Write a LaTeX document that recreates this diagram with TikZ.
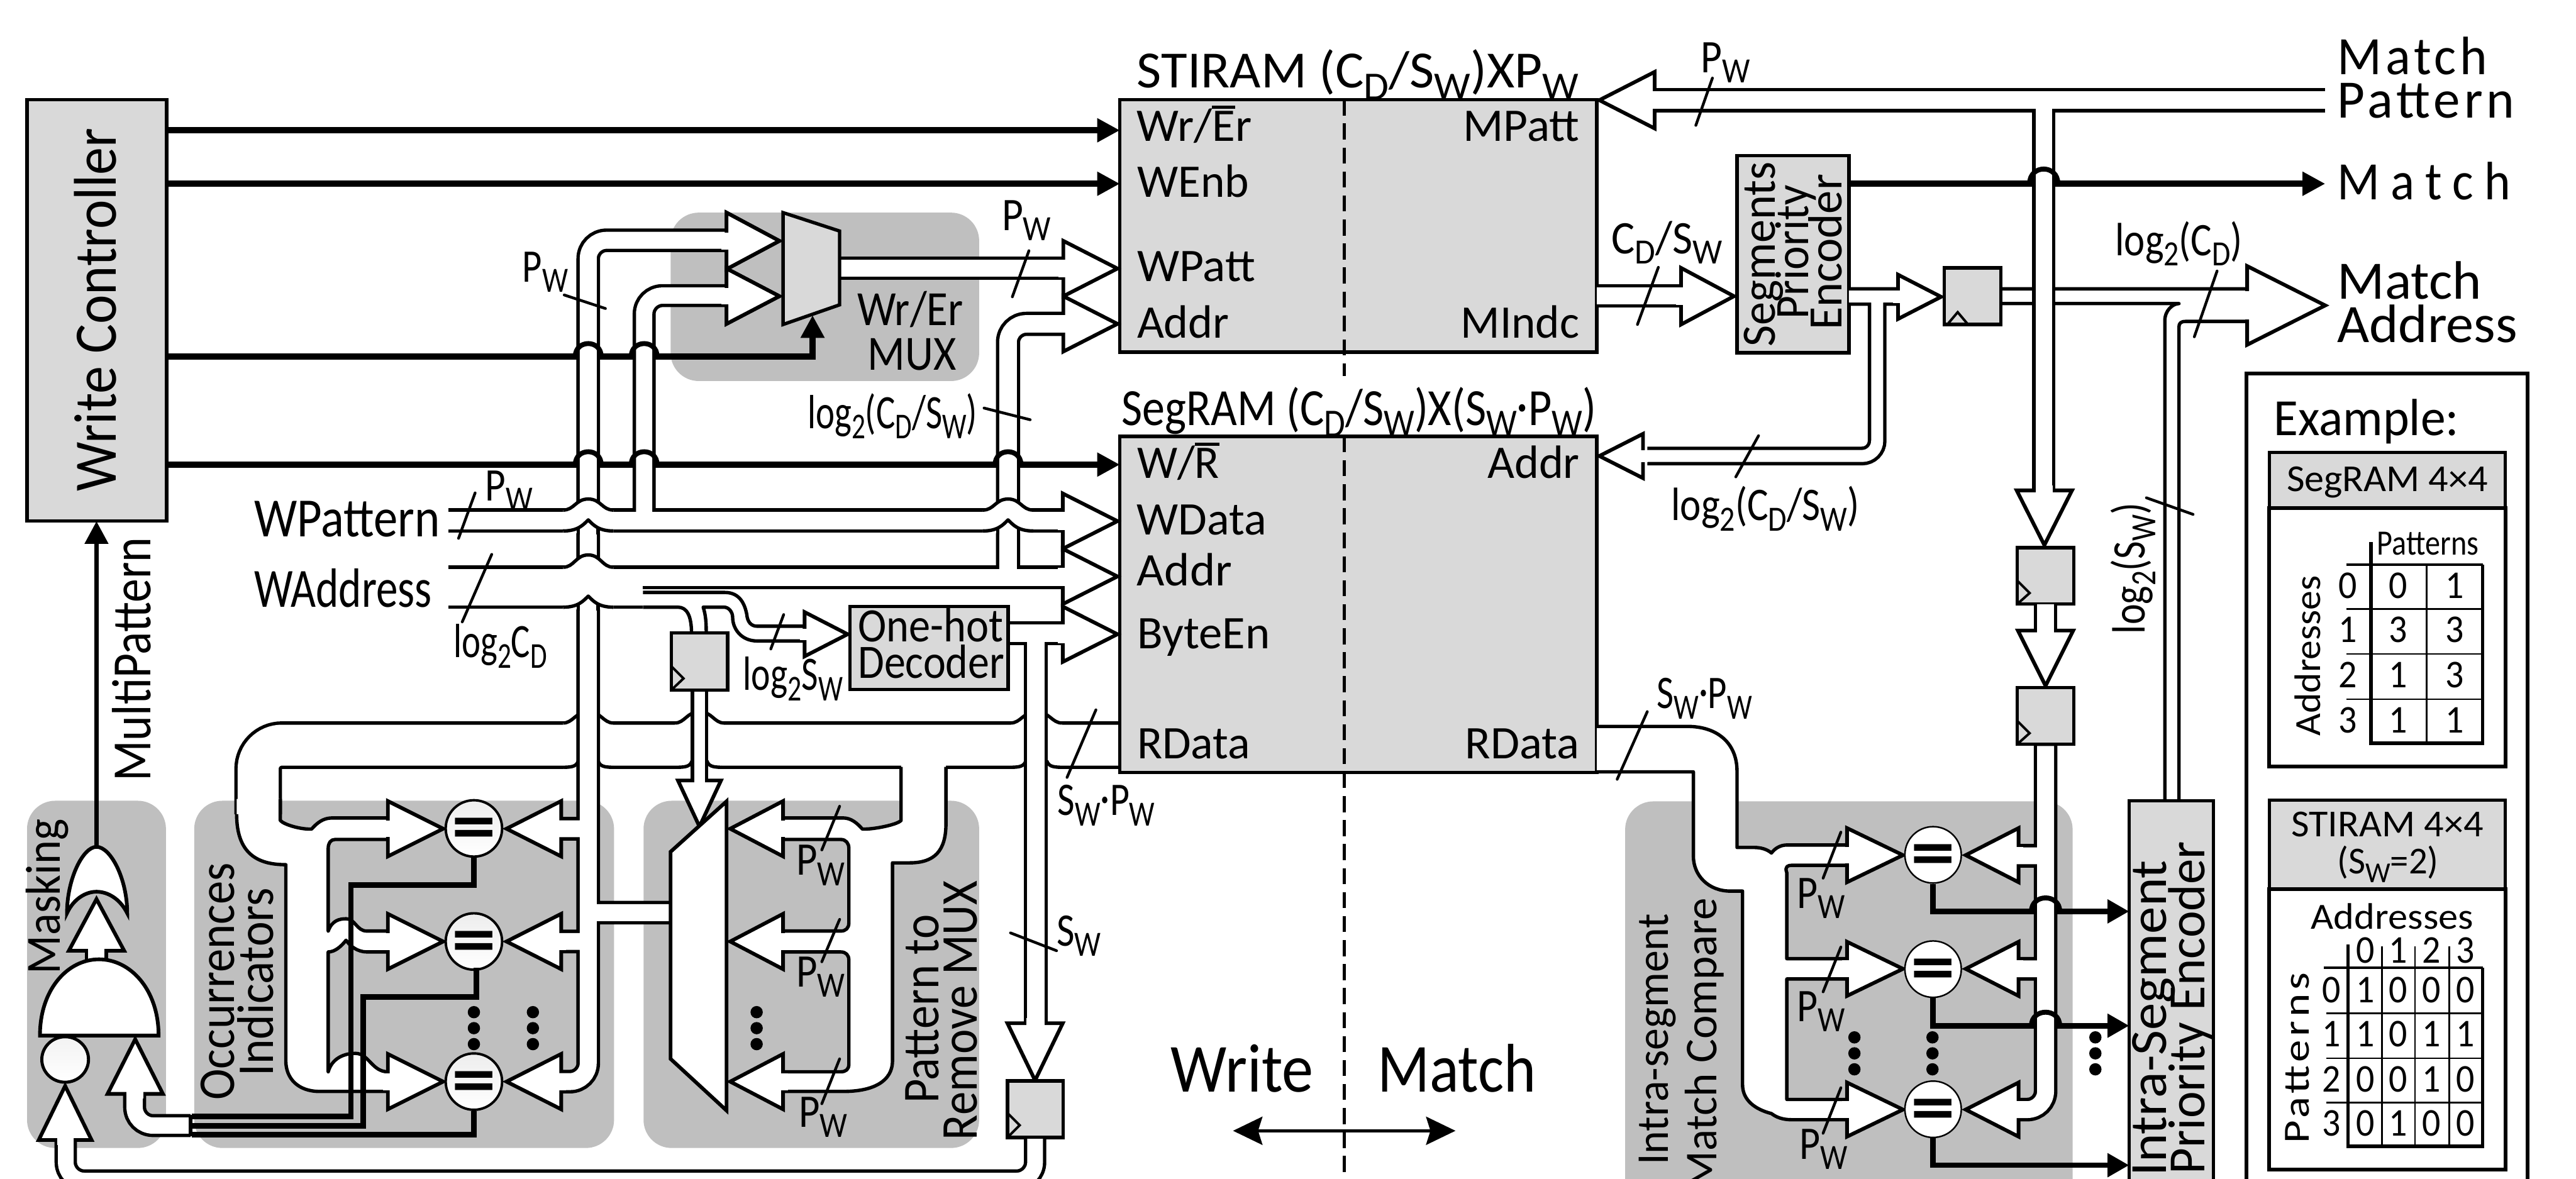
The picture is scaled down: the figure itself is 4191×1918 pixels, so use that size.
\documentclass[tikz,border=0pt]{standalone}
\usepackage{fontspec}
\setmainfont{Carlito}
\usetikzlibrary{arrows.meta}
\definecolor{boxg}{HTML}{D9D9D9}
\definecolor{bgg}{HTML}{BFBFBF}
\newsavebox\tbox
\newcounter{tn}
\newcommand\ft[3]{\pgfmathsetmacro\fs{#1*0.28453}\fontsize{\fs pt}{\fs pt}\selectfont\sbox\tbox{#3}\pgfmathsetmacro\rr{#2*0.28453/\wd\tbox}\scalebox{\rr}[1]{\usebox\tbox}}
\newcommand\Tx[6]{\stepcounter{tn}\node[txt,rotate=#3] (t\arabic{tn}) at (#1,#2) {\ft{#4}{#5}{#6}};}
\newcommand\Dg[3]{\Tx{#1}{#2}{0}{64}{30}{#3}}
\newcommand\sbs[1]{\raisebox{-.22em}{\scalebox{.76}{#1}}}
\newcommand\obar[1]{\sbox0{#1}\rlap{\rule[\dimexpr\ht0+.05em]{\wd0}{.07em}}\usebox0}
\newcommand\PW{P\sbs{W}}
\newcommand\SW{S\sbs{W}}
\newcommand\CD{C\sbs{D}}
\newcommand\blk[3][]{\draw[black,lw={#2+5.5},#1] #3;}
\newcommand\wht[3][]{\draw[white,lw={#2-5.5},#1] #3;}
\newcommand\hH[5]{\draw[headst] (#1,#2) -- (#3,{#2-#4}) -- (#3,{#2+#4}) -- cycle; \wht{#5}{({#3-8},#2) -- ({#3+8},#2)}}
\newcommand\hV[5]{\draw[headst] (#1,#2) -- ({#1-#4},#3) -- ({#1+#4},#3) -- cycle; \wht{#5}{(#1,{#3-8}) -- (#1,{#3+8})}}
\newcommand\Bx[6][box]{\node[#1,minimum width={(#5-#3)*0.01cm},minimum height={(#6-#4)*0.01cm}] (#2) at ({(#3+#5)/2},{(#4+#6)/2}) {};}
\newcommand\Bg[4]{\fill[bgg,rounded corners=13pt] (#1,#2) rectangle (#3,#4);}
\newcommand\hop[4]{\draw[lw=8] ({#1-#3},#2) .. controls ({#1-#3},{#2-#4*1.33}) and ({#1+#3},{#2-#4*1.33}) .. ({#1+#3},#2);}
% xc ytop ybot hw hump vw
\newcommand\hopH[6]{%
 \fill[white] ({#1-#4},#2) .. controls ({#1-#4*.55},#2) and ({#1-#4*.5},{#2-#5}) .. (#1,{#2-#5}) .. controls ({#1+#4*.5},{#2-#5}) and ({#1+#4*.55},#2) .. ({#1+#4},#2) -- ({#1+#4},{#3+3.5}) -- ({#1-#4},{#3+3.5}) -- cycle;
 \draw[edge] ({#1-#4},#2) .. controls ({#1-#4*.55},#2) and ({#1-#4*.5},{#2-#5}) .. (#1,{#2-#5}) .. controls ({#1+#4*.5},{#2-#5}) and ({#1+#4*.55},#2) .. ({#1+#4},#2);
 \draw[edge] ({#1-#4},#3) .. controls ({#1-#4*.4},#3) and ({#1-#4*.2},{#3-10}) .. (#1,{#3-18}) .. controls ({#1+#4*.2},{#3-10}) and ({#1+#4*.4},#3) .. ({#1+#4},#3);
 \draw[edge] ({#1-#6},{#3-5}) -- ({#1-#6},{#3+6}) ({#1+#6},{#3-5}) -- ({#1+#6},{#3+6});
}
% crossing of the wide RData bus: xc hw vw
\newcommand\hopB[3]{%
 \fill[white] ({#1-#2},1172) rectangle ({#1+#2},1181);
 \draw[edge] ({#1-#2},1176.5) .. controls ({#1-#2*.6},1176.5) and ({#1-#2*.5},1158) .. (#1,1158) .. controls ({#1+#2*.5},1158) and ({#1+#2*.6},1176.5) .. ({#1+#2},1176.5);
 \fill[white] ({#1-#3-24},1244) rectangle ({#1+#3+24},1252);
 \draw[edge] ({#1-#3-24},1248.5) .. controls ({#1-#3-8},1248.5) and ({#1-#3-3},1246) .. ({#1-#3},1238) ({#1+#3},1238) .. controls ({#1+#3+3},1246) and ({#1+#3+8},1248.5) .. ({#1+#3+24},1248.5);
}
\newcommand\Dots[2]{\fill (#1,{#2-26}) circle[radius=10] (#1,#2) circle[radius=10] (#1,{#2+26}) circle[radius=10];}
\tikzset{
 lw/.style={line width={(#1)*0.28453pt}},
 edge/.style={lw=5.5,line join=round},
 headst/.style={draw=black,fill=white,lw=6,line join=miter,miter limit=10},
 box/.style={draw=black,fill=boxg,lw=5.5,inner sep=0pt,outer sep=0pt},
 cmpL/.style={circle,draw=black,lw=4,minimum size=26.2mm*.35,inner sep=0pt,top color=gray!14,bottom color=white},
 cmpR/.style={circle,draw=black,lw=2.5,minimum size=26.2mm*.35,inner sep=0pt,fill=white},
 txt/.style={anchor=base,inner sep=0pt,outer sep=0pt,text=black},
 ctl/.style={lw=10},
 ctlA/.style={lw=10,-{Triangle[length=10.5pt,width=10.5pt]}},
 wire/.style={lw=9,line join=miter},
 slash/.style={lw=4.5,line cap=round},
 dashl/.style={lw=5.5,dash pattern=on 7.4pt off 3.7pt},
}
\begin{document}
\begin{tikzpicture}[x=0.01cm,y=-0.01cm]
\useasboundingbox (0,0) rectangle (4191,1918);
\clip (0,0) rectangle (4191,1918);
\fill[white] (0,0) rectangle (4191,1918);
% ---------- grey regions
\Bg{1091}{346}{1593}{620}
\Bg{44}{1303}{270}{1868}
\Bg{316}{1303}{999}{1868}
\Bg{1047}{1303}{1593}{1868}
\Bg{2644}{1304}{3372}{2000}
% ---------- wide RData bus and the left comb
\blk[rounded corners=11pt]{72}{(1830,1212.5) -- (420,1212.5) -- (420,1325)}
\wht[rounded corners=11pt]{72}{(1830,1212.5) -- (420,1212.5) -- (420,1325)}
\fill[white] (456,1300) -- (456,1335) .. controls (462,1342) and (490,1350) .. (507,1349) .. controls (515,1340) and (525,1331) .. (540,1331) -- (631,1331) -- (631,1366) -- (545,1366) .. controls (538,1366) and (534,1372) .. (534,1380) -- (534,1515) .. controls (540,1498) and (552,1495) .. (563,1495) .. controls (578,1495) and (580,1515) .. (597,1515) -- (631,1515) -- (631,1549) -- (597,1549) .. controls (582,1549) and (570,1540) .. (563,1530) .. controls (555,1540) and (545,1549) .. (534,1549) -- (534,1744) .. controls (540,1722) and (560,1714) .. (578,1714) .. controls (600,1714) and (605,1744) .. (631,1744) -- (631,1776) -- (520,1776) .. controls (485,1776) and (465,1755) .. (465,1726) -- (465,1407) .. controls (420,1407) and (385,1390) .. (385,1330) -- (385,1300) -- cycle;
\draw[edge] (456,1300) -- (456,1335) .. controls (462,1342) and (490,1350) .. (507,1349) .. controls (515,1340) and (525,1331) .. (540,1331) -- (631,1331)
 (631,1366) -- (545,1366) .. controls (538,1366) and (534,1372) .. (534,1380) -- (534,1515) .. controls (540,1498) and (552,1495) .. (563,1495) .. controls (578,1495) and (580,1515) .. (597,1515) -- (631,1515)
 (631,1549) -- (597,1549) .. controls (582,1549) and (570,1540) .. (563,1530) .. controls (555,1540) and (545,1549) .. (534,1549) -- (534,1744) .. controls (540,1722) and (560,1714) .. (578,1714) .. controls (600,1714) and (605,1744) .. (631,1744)
 (631,1776) -- (520,1776) .. controls (485,1776) and (465,1755) .. (465,1726) -- (465,1407) .. controls (420,1407) and (385,1390) .. (385,1325);
\hH{721}{1348.5}{631}{45}{33}
\hH{721}{1532}{631}{45}{33}
\hH{721}{1760}{631}{45}{33}
% ---------- pattern-to-remove comb
\fill[white] (1466,1240) -- (1466,1335) .. controls (1460,1342) and (1420,1350) .. (1403,1349) .. controls (1395,1340) and (1385,1331) .. (1372,1331) -- (1274,1331) -- (1274,1366) -- (1368,1366) .. controls (1376,1366) and (1381,1372) .. (1381,1380) -- (1381,1502) .. controls (1381,1510) and (1376,1515) .. (1368,1515) -- (1274,1515) -- (1274,1549) -- (1368,1549) .. controls (1376,1549) and (1381,1554) .. (1381,1562) -- (1381,1732) .. controls (1381,1740) and (1376,1744) .. (1368,1744) -- (1274,1744) -- (1274,1776) -- (1372,1776) .. controls (1420,1776) and (1452,1760) .. (1452,1726) -- (1452,1404) -- (1480,1404) .. controls (1520,1404) and (1539,1385) .. (1539,1340) -- (1539,1240) -- cycle;
\draw[edge] (1466,1248) -- (1466,1335) .. controls (1460,1342) and (1420,1350) .. (1403,1349) .. controls (1395,1340) and (1385,1331) .. (1372,1331) -- (1274,1331)
 (1274,1366) -- (1368,1366) .. controls (1376,1366) and (1381,1372) .. (1381,1380) -- (1381,1502) .. controls (1381,1510) and (1376,1515) .. (1368,1515) -- (1274,1515)
 (1274,1549) -- (1368,1549) .. controls (1376,1549) and (1381,1554) .. (1381,1562) -- (1381,1732) .. controls (1381,1740) and (1376,1744) .. (1368,1744) -- (1274,1744)
 (1274,1776) -- (1372,1776) .. controls (1420,1776) and (1452,1760) .. (1452,1726) -- (1452,1404) -- (1480,1404) .. controls (1520,1404) and (1539,1385) .. (1539,1340) -- (1539,1248);
\hH{1188}{1348.5}{1274}{45}{33}
\hH{1188}{1532}{1274}{45}{33}
\hH{1188}{1760}{1274}{45}{33}
\hopB{957}{41}{16}
\hopB{1138}{40}{12}
\hopB{1686}{42}{17}
% ---------- boxes needed as anchors
\Bx{wc}{44}{162}{271}{848}
\Bx{stiram}{1822}{162}{2598}{573}
\Bx{segram}{1822}{710}{2598}{1257}
\Bx{segenc}{2826}{253}{3008}{574}
\Bx{isenc}{3464}{1303}{3601}{2000}
% ---------- control lines
\draw[ctlA] (wc.east |- 0,212) -- (stiram.west |- 0,212);
\draw[ctlA] (wc.east |- 0,299) -- (stiram.west |- 0,299);
\draw[ctlA] (wc.east |- 0,756) -- (segram.west |- 0,756);
\coordinate (muxctl) at (1322,513);
\draw[ctlA] (wc.east |- 0,580) -| (muxctl);
\draw[ctlA] (segenc.east |- 0,299) -- (3783,299);
% ---------- write pattern trunk A
\blk[rounded corners=8.5pt]{33}{(1190,391) -- (957,391) -- (957,1760) -- (905,1760) (957,1348.5) -- (905,1348.5) (957,1532) -- (905,1532) (957,1485) -- (1100,1485)}
\hH{824}{1348.5}{913}{45}{33}
\hH{824}{1532}{913}{45}{33}
\hH{824}{1760}{913}{45}{33}
\hH{1268}{392}{1182}{46}{33}
\wht[rounded corners=8.5pt]{33}{(1190,391) -- (957,391) -- (957,1760) -- (905,1760) (957,1348.5) -- (905,1348.5) (957,1532) -- (905,1532) (957,1485) -- (1100,1485)}
% bus B and addr riser, black part
\blk[rounded corners=8.5pt]{32}{(1190,481) -- (1048,481) -- (1048,836)}
\hH{1268}{482}{1182}{45}{32}
\blk[rounded corners=8.5pt]{34}{(1736,527) -- (1640,527) -- (1640,926)}
\hH{1818}{527}{1730}{45}{34}
% mux output
\blk{33}{(1366,436.5) -- (1736,436.5)}
\hH{1818}{437}{1730}{45}{33}
\wht{33}{(1366,436.5) -- (1736,436.5)}
% WPattern bus
\blk{34}{(730,847) -- (1735,847)}
\hH{1818}{848}{1729}{45}{34}
\wht{34}{(730,847) -- (1735,847)}
% WAddress bus
\blk{65}{(730,955.5) -- (1046,955.5)}
\wht{65}{(730,955.5) -- (1046,955.5)}
\blk{33}{(1046,939.5) -- (1735,939.5)}
\hH{1818}{938}{1729}{45}{33}
\wht{33}{(1040,939.5) -- (1735,939.5)}
\wht[rounded corners=8.5pt]{32}{(1190,481) -- (1048,481) -- (1048,836)}
\wht[rounded corners=8.5pt]{34}{(1736,527) -- (1640,527) -- (1640,926)}
\hopH{957}{830}{864}{41}{18}{16}
\hopH{1640}{830}{864}{41}{18}{17}
\hopH{957}{923}{988}{41}{20}{16}
% byte-enable / S_W bus
\blk{34}{(1685,1031) -- (1685,1670) (1640,1030.5) -- (1735,1030.5)}
\hH{1818}{1032}{1729}{45}{34}
\hV{1684}{1758}{1665}{45}{34}
\wht{34}{(1685,1031) -- (1685,1670) (1640,1030.5) -- (1735,1030.5)}
% register bus to mux
\blk{23}{(1138,1123) -- (1138,1275)}
\hV{1138}{1345}{1270}{35}{23}
\wht{23}{(1138,1123) -- (1138,1275)}
% WAddress branches
\draw[edge] (1046,964) -- (1179,964) .. controls (1205,964) and (1212,985) .. (1215,1000) .. controls (1216,1012) and (1222,1019) .. (1232,1019) -- (1312,1019)
 (1312,1043) -- (1232,1043) .. controls (1205,1043) and (1192,1022) .. (1192,1005) .. controls (1192,995) and (1185,988) .. (1178,988) -- (1144,988) .. controls (1148,1000) and (1149,1012) .. (1149,1030)
 (1046,988) -- (1103,988) .. controls (1118,988) and (1125,1003) .. (1125,1030);
\hH{1379}{1032}{1309}{36}{24}
% ---------- mux shapes
\draw[headst] (1091,1386) -- (1182,1304) -- (1182,1807) -- (1091,1723) -- cycle;
\draw[box,line join=miter] (1274,346) -- (1366,376) -- (1366,496) -- (1274,528) -- cycle;
\blk{33}{(1182,391) -- (1190,391)}\wht{33}{(1176,391) -- (1194,391)}
\blk{32}{(1182,481) -- (1190,481)}\wht{32}{(1176,481) -- (1194,481)}
\hH{1268}{392}{1182}{46}{33}
\hH{1268}{482}{1182}{45}{32}
% ---------- registers and decoder
\Bx{regw}{1092}{1030}{1184}{1123}
\draw[lw=4] (1093,1085) -- (1112,1104) -- (1093,1122);
\Bx{onehot}{1383}{987}{1640}{1122}
\Bx{regs}{1639}{1759}{1730}{1851}
\draw[lw=4] (1640,1812) -- (1659,1831) -- (1640,1850);
% ---------- gates
\blk[rounded corners=8.5pt]{31}{(107,1850) -- (107,1921) -- (1684,1921) -- (1684,1851)}
\hV{106}{1767}{1855}{43}{31}
\wht[rounded corners=8.5pt]{31}{(107,1850) -- (107,1921) -- (1684,1921) -- (1684,1853)}
\blk[rounded corners=8.5pt]{32}{(219,1775) -- (219,1831.5) -- (310,1831.5)}
\hV{220}{1691}{1780}{45}{32}
\wht[rounded corners=8.5pt]{32}{(219,1775) -- (219,1831.5) -- (310,1831.5)}
\draw[edge] (310,1814) -- (310,1849);
\blk{32}{(157,1566) -- (157,1545)}
\hV{157}{1463}{1547}{45}{32}
\wht{32}{(157,1566) -- (157,1545)}
\draw[lw=6,fill=white] (65,1685) .. controls (65,1610) and (110,1561) .. (161,1561) .. controls (212,1561) and (258,1610) .. (258,1685) -- cycle;
\draw[lw=6,fill=white] (109,1486) .. controls (109,1430) and (135,1378) .. (157,1378) .. controls (180,1378) and (207,1430) .. (207,1486) .. controls (195,1462) and (175,1451) .. (157,1451) .. controls (140,1451) and (120,1462) .. (109,1486) -- cycle;
\draw[lw=5,top color=gray!10,bottom color=white] (106,1724) ellipse [x radius=38,y radius=37];
\coordinate (orout) at (157,1378);
\draw[lw=8,-{Triangle[length=10.5pt,width=10.5pt]}] (orout) -- (wc.south -| orout);
% ---------- comparators
\node[cmpL] (c1) at (771,1348) {};
\node[cmpL] (c2) at (771,1532) {};
\node[cmpL] (c3) at (771,1760) {};
\draw[wire] (312,1817) -- (571,1817) -- (571,1440) -- (771,1440) -- (c1.south);
\draw[wire] (312,1832) -- (591,1832) -- (591,1622) -- (775,1622) -- (775,1575);
\draw[wire] (312,1846) -- (771,1846) -- (c3.south);
\Tx{771}{1384}{0}{118}{72}{\bfseries =}
\Tx{771}{1568}{0}{118}{72}{\bfseries =}
\Tx{771}{1796}{0}{118}{72}{\bfseries =}
\Dots{771}{1673}
\Dots{867}{1673}
\Dots{1231}{1673}
% ---------- top right buses
\blk{33}{(2598,481.5) -- (2740,481.5)}
\hH{2821}{482}{2735}{46}{33}
\wht{33}{(2598,481.5) -- (2740,481.5)}
\blk[rounded corners=7pt]{25}{(3008,482.5) -- (3095,482.5) (3054,482.5) -- (3054,742) -- (2680,742)}
\hH{3158}{483}{3088}{36}{25}
\hH{2602}{742}{2673}{36}{25}
\wht[rounded corners=7pt]{25}{(3008,482.5) -- (3095,482.5) (3054,482.5) -- (3054,742) -- (2680,742)}
\Bx{regm}{3163}{436}{3255}{528}
\draw[lw=4] (3169,527) -- (3185,508) -- (3201,527);
% match address
\draw[edge] (3255,470) -- (3656,470)
 (3255,494) -- (3545,494) .. controls (3535,494) and (3522,505) .. (3522,522) -- (3522,1303)
 (3545,1303) -- (3545,532) .. controls (3545,526) and (3548,523) .. (3556,523) -- (3656,523);
\draw[headst] (3783,497) -- (3656,433) -- (3656,561) -- cycle;
\fill[white] (3650,473.5) rectangle (3664,519.5);
% match pattern net
\blk{34}{(3783,163) -- (2685,163)}
\blk{32}{(3325,163) -- (3325,805)}
\hH{2602}{163}{2692}{46}{34}
\hV{3326}{887}{798}{45}{32}
\wht{34}{(3783,163) -- (2685,163)}
\wht{32}{(3325,163) -- (3325,805)}
\Bx{rega}{3282}{891}{3374}{983}
\draw[lw=4] (3283,946) -- (3302,965) -- (3283,982);
\blk{33}{(3328,983) -- (3328,1030)}
\hV{3328}{1116}{1026}{45}{33}
\wht{33}{(3328,983) -- (3328,1030)}
\Bx{regb}{3282}{1119}{3374}{1211}
\draw[lw=4] (3283,1174) -- (3302,1193) -- (3283,1210);
% ---------- intra segment comb
\fill[white] (2598,1182) -- (2745,1182) .. controls (2795,1182) and (2826,1210) .. (2826,1255) -- (2826,1379) -- (2854,1379) .. controls (2865,1379) and (2875,1382) .. (2882,1388) .. controls (2888,1380) and (2897,1375) .. (2907,1375) -- (3005,1375) -- (3005,1408) -- (2915,1408) .. controls (2909,1408) and (2903,1410) .. (2907,1420) -- (2907,1560) -- (3005,1560) -- (3005,1593) -- (2907,1593) -- (2907,1789) -- (3005,1789) -- (3005,1822) -- (2915,1822) .. controls (2900,1822) and (2890,1818) .. (2882,1812) .. controls (2855,1805) and (2835,1790) .. (2835,1765) -- (2835,1450) -- (2815,1450) .. controls (2780,1450) and (2755,1425) .. (2755,1393) -- (2755,1256) -- (2598,1256) -- cycle;
\draw[edge] (2598,1182) -- (2745,1182) .. controls (2795,1182) and (2826,1210) .. (2826,1255) -- (2826,1379) -- (2854,1379) .. controls (2865,1379) and (2875,1382) .. (2882,1388) .. controls (2888,1380) and (2897,1375) .. (2907,1375) -- (3005,1375)
 (3005,1408) -- (2915,1408) .. controls (2909,1408) and (2903,1410) .. (2907,1420) -- (2907,1560) -- (3005,1560)
 (3005,1593) -- (2907,1593) -- (2907,1789) -- (3005,1789)
 (3005,1822) -- (2915,1822) .. controls (2900,1822) and (2890,1818) .. (2882,1812) .. controls (2855,1805) and (2835,1790) .. (2835,1765) -- (2835,1450) -- (2815,1450) .. controls (2780,1450) and (2755,1425) .. (2755,1393) -- (2755,1256) -- (2598,1256);
\hH{3096}{1391.5}{3005}{44}{33}
\hH{3096}{1576.5}{3005}{44}{33}
\hH{3096}{1805.5}{3005}{44}{33}
\node[cmpR] (c4) at (3145,1391) {};
\node[cmpR] (c5) at (3145,1577) {};
\node[cmpR] (c6) at (3145,1805) {};
\draw[wire,-{Triangle[length=10pt,width=10.5pt]}] (c4.south) |- (isenc.west |- 0,1483);
\draw[wire,-{Triangle[length=10pt,width=10.5pt]}] (c5.south) |- (isenc.west |- 0,1669);
\draw[wire,-{Triangle[length=10pt,width=10.5pt]}] (c6.south) |- (isenc.west |- 0,1896);
\Tx{3145}{1427}{0}{118}{72}{\bfseries =}
\Tx{3145}{1613}{0}{118}{72}{\bfseries =}
\Tx{3145}{1841}{0}{118}{72}{\bfseries =}
\blk[rounded corners=8.5pt]{33}{(3328,1211) -- (3328,1805.5) -- (3276,1805.5) (3328,1392.5) -- (3276,1392.5) (3328,1576.5) -- (3276,1576.5)}
\hH{3198}{1391.5}{3284}{44}{33}
\hH{3198}{1576.5}{3284}{44}{33}
\hH{3198}{1805.5}{3284}{44}{33}
\wht[rounded corners=8.5pt]{33}{(3328,1214) -- (3328,1805.5) -- (3276,1805.5) (3328,1392.5) -- (3276,1392.5) (3328,1576.5) -- (3276,1576.5)}
\hop{3328}{1483}{23}{22}
\hop{3328}{1669}{23}{22}
\hop{3325}{299}{23}{24}
\Dots{3017}{1714}
\Dots{3144}{1714}
\Dots{3409}{1714}
% ---------- hops over control lines
\hop{957}{580}{21}{21}
\hop{1048}{580}{21}{21}
\hop{957}{756}{21}{21}
\hop{1048}{756}{21}{21}
\hop{1640}{756}{21}{21}
% ---------- dashed divider
\draw[dashl] (2187,162) -- (2187,612);
\draw[dashl] (2187,710) -- (2187,1918);
\coordinate (wl) at (2006,1840);
\coordinate (wr) at (2368,1840);
\draw[lw=5,{Stealth[length=13.6pt,width=13pt,inset=2pt]}-{Stealth[length=13.6pt,width=13pt,inset=2pt]}] (wl) -- (wr);
% ---------- slashes
\foreach \a/\b/\c/\d in {918/480/985/502,1674/408/1647/483,1601/664/1676/683,773/802/746/876,800/902/752/1012,1275/1000/1254/1056,1783/1155/1736/1265,1644/1518/1719/1547,1366/1312/1337/1383,1366/1496/1337/1565,1366/1723/1337/1796,2786/127/2759/204,2698/435/2664/528,2861/709/2824/776,3607/441/3570/548,3492/810/3568/837,2680/1158/2631/1268,2995/1354/2966/1429,2995/1541/2966/1614,2995/1770/2966/1844}
  \draw[slash] (\a,\b) -- (\c,\d);
% ---------- texts
\Tx{189}{504}{90}{98}{591}{Write Controller}
\Tx{245}{1073}{90}{90}{397}{MultiPattern}
\Tx{98}{1459}{90}{80}{252}{Masking}
\Tx{381}{1597}{90}{84}{386}{Occurrences}
\Tx{445}{1598}{90}{84}{307}{Indicators}
\Tx{1527}{1642}{90}{84}{307}{Pattern to}
\Tx{1590}{1644}{90}{84}{422}{Remove MUX}
\Tx{1481}{530}{0}{80}{172}{Wr/Er}
\Tx{1484}{602}{0}{80}{144}{MUX}
\Tx{887}{459}{0}{76}{74}{\PW}
\Tx{1670}{375}{0}{76}{80}{\PW}
\Tx{828}{815}{0}{76}{77}{\PW}
\Tx{1452}{697}{0}{78}{276}{log\sbs{2}(\CD/\SW)}
\Tx{565}{873}{0}{90}{302}{WPattern}
\Tx{558}{988}{0}{90}{289}{WAddress}
\Tx{814}{1070}{0}{78}{152}{log\sbs{2}\CD}
\Tx{1290}{1123}{0}{78}{162}{log\sbs{2}\SW}
\Tx{1514}{1044}{0}{78}{236}{One-hot}
\Tx{1515}{1104}{0}{78}{238}{Decoder}
\Tx{1755}{1539}{0}{76}{72}{\SW}
\Tx{1800}{1327}{0}{76}{158}{\SW{\raisebox{.05em}{·}}\PW}
\Tx{1335}{1424}{0}{76}{79}{\PW}
\Tx{1335}{1606}{0}{76}{79}{\PW}
\Tx{1339}{1834}{0}{76}{79}{\PW}
\Tx{2209}{143}{0}{85}{718}{STIRAM (\CD/\SW)XP\sbs{W}}
\Tx{2211}{692}{0}{85}{771}{SegRAM (\CD/\SW)X(\SW{\raisebox{.05em}{·}}\PW)}
\Tx{1943}{230}{0}{76}{187}{Wr/\obar{E}r}
\Tx{1941}{321}{0}{76}{182}{WEnb}
\Tx{1946}{458}{0}{76}{192}{WPatt}
\Tx{1925}{550}{0}{76}{150}{Addr}
\Tx{2475}{230}{0}{76}{189}{MPatt}
\Tx{2473}{550}{0}{76}{193}{MIndc}
\Tx{1917}{778}{0}{76}{134}{W/\obar{R}}
\Tx{1955}{870}{0}{76}{211}{WData}
\Tx{1927}{953}{0}{76}{155}{Addr}
\Tx{1958}{1055}{0}{76}{216}{ByteEn}
\Tx{1942}{1234}{0}{76}{184}{RData}
\Tx{2495}{778}{0}{76}{150}{Addr}
\Tx{2477}{1234}{0}{76}{186}{RData}
\Tx{2021}{1777}{0}{112}{232}{Write}
\Tx{2370}{1777}{0}{112}{258}{Match}
\Tx{2807}{118}{0}{76}{80}{\PW}
\Tx{2712}{413}{0}{76}{180}{\CD/\SW}
\Tx{2872}{847}{0}{76}{306}{log\sbs{2}(\CD/\SW)}
\Tx{3545}{416}{0}{76}{207}{log\sbs{2}(\CD)}
\Tx{3490}{925}{90}{76}{213}{log\sbs{2}(\SW)}
\Tx{2888}{414}{90}{78}{301}{Segments}
\Tx{2942}{410}{90}{78}{218}{Priority}
\Tx{2996}{410}{90}{78}{253}{Encoder}
\Tx{2773}{1153}{0}{76}{155}{\SW{\raisebox{.05em}{·}}\PW}
\Tx{2963}{1478}{0}{76}{78}{\PW}
\Tx{2963}{1662}{0}{76}{78}{\PW}
\Tx{2967}{1886}{0}{76}{78}{\PW}
\Tx{2714}{1691}{90}{74}{409}{Intra-segment}
\Tx{2793}{1698}{90}{74}{474}{Match Compare}
\Tx{3524}{1657}{90}{85}{514}{Intra-Segment}
\Tx{3587}{1640}{90}{85}{541}{Priority Encoder}
\Tx{3925}{121}{0}{88}{244}{\addfontfeatures{LetterSpace=7}Match}
\Tx{3947}{192}{0}{88}{288}{\addfontfeatures{LetterSpace=7}Pattern}
\Tx{3944}{325}{0}{88}{282}{\addfontfeatures{LetterSpace=22}Match}
\Tx{3920}{487}{0}{88}{234}{Match}
\Tx{3949}{557}{0}{88}{293}{Address}
% ---------- example panel
\Bx[draw=black,lw=6,inner sep=0pt,outer sep=0pt]{expanel}{3655}{608}{4112}{2100}
\Tx{3850}{709}{0}{85}{301}{Example:}
\Bx{seghead}{3692}{736}{4076}{827}
\Bx[draw=black,lw=6,inner sep=0pt,outer sep=0pt]{segtab}{3692}{827}{4076}{1247}
\Tx{3884}{800}{0}{62}{327}{SegRAM 4×4}
\Tx{3950}{903}{0}{58}{165}{Patterns}
\Tx{3775}{1067}{90}{60}{261}{Addresses}
\draw[lw=6,line join=miter] (3857,882) -- (3857,1209) -- (4039,1209) -- (4039,919);
\draw[lw=4] (3817,919) -- (4039,919);
\draw[lw=2.5] (3817,991) -- (4039,991) (3817,1064) -- (4039,1064) (3817,1138) -- (4039,1138);
\draw[lw=3] (3948,919) -- (3948,1209);
\Dg{3820}{974}{0}\Dg{3820}{1045}{1}\Dg{3820}{1119}{2}\Dg{3820}{1193}{3}
\Dg{3902}{974}{0}\Dg{3994}{974}{1}
\Dg{3902}{1045}{3}\Dg{3994}{1045}{3}
\Dg{3902}{1119}{1}\Dg{3994}{1119}{3}
\Dg{3902}{1193}{1}\Dg{3994}{1193}{1}
\Bx{stihead}{3692}{1302}{4076}{1447}
\Bx[draw=black,lw=6,inner sep=0pt,outer sep=0pt]{stitab}{3692}{1447}{4076}{1903}
\Tx{3884}{1361}{0}{62}{312}{STIRAM 4×4}
\Tx{3885}{1422}{0}{62}{165}{(\SW=2)}
\Tx{3892}{1512}{0}{60}{264}{Addresses}
\Tx{3757}{1722}{90}{60}{278}{\addfontfeatures{LetterSpace=8}Patterns}
\draw[lw=6,line join=miter] (3820,1537) -- (3820,1865) -- (4039,1865) -- (4039,1575);
\draw[lw=4] (3781,1575) -- (4039,1575);
\draw[lw=2.5] (3785,1649) -- (4039,1649) (3785,1722) -- (4039,1722) (3785,1794) -- (4039,1794);
\draw[lw=3] (3875,1540) -- (3875,1865) (3929,1540) -- (3929,1865) (3985,1540) -- (3985,1865);
\Dg{3848}{1567}{0}\Dg{3902}{1567}{1}\Dg{3956}{1567}{2}\Dg{4011}{1567}{3}
\Dg{3793}{1631}{0}\Dg{3793}{1703}{1}\Dg{3793}{1777}{2}\Dg{3793}{1848}{3}
\Dg{3848}{1631}{1}\Dg{3902}{1631}{0}\Dg{3956}{1631}{0}\Dg{4011}{1631}{0}
\Dg{3848}{1703}{1}\Dg{3902}{1703}{0}\Dg{3956}{1703}{1}\Dg{4011}{1703}{1}
\Dg{3848}{1777}{0}\Dg{3902}{1777}{0}\Dg{3956}{1777}{1}\Dg{4011}{1777}{0}
\Dg{3848}{1848}{0}\Dg{3902}{1848}{1}\Dg{3956}{1848}{0}\Dg{4011}{1848}{0}
\end{tikzpicture}
\end{document}
